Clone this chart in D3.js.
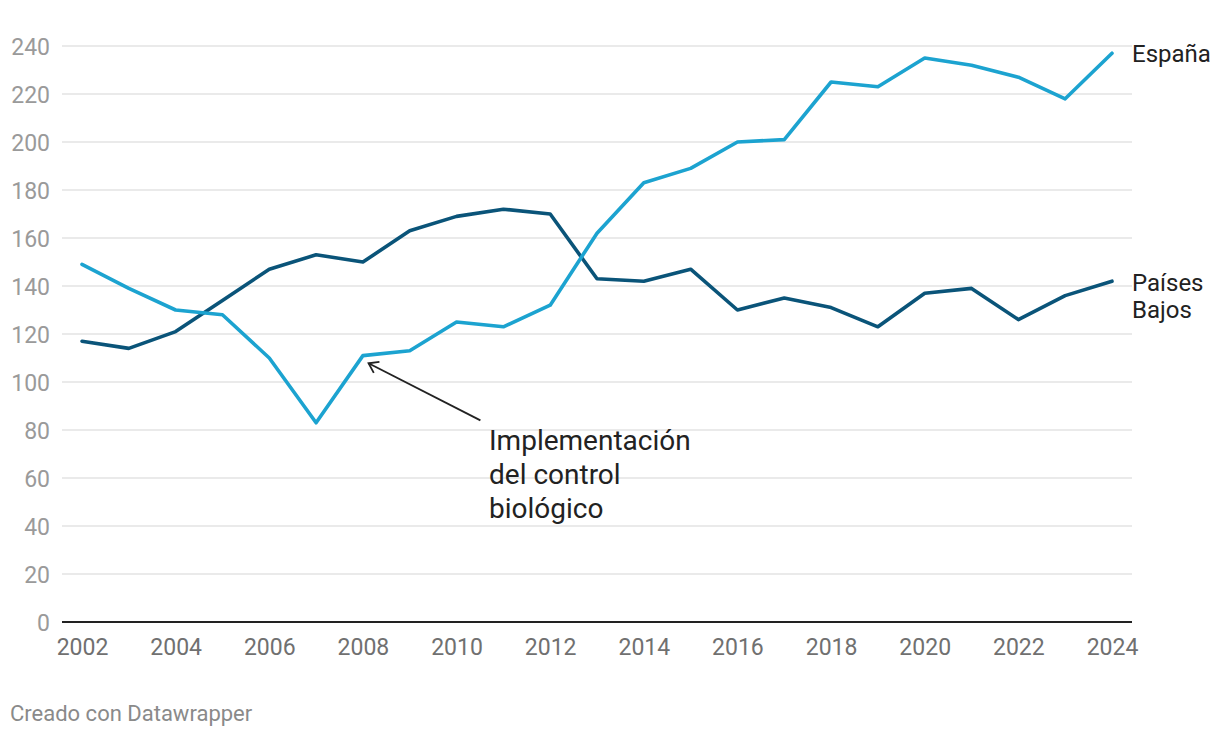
<!DOCTYPE html>
<html>
<head>
<meta charset="utf-8">
<script src="https://cdn.jsdelivr.net/npm/d3@7"></script>
<style>
  html, body { margin: 0; padding: 0; background: #fff; }
  svg { display: block; font-family: Roboto, "Noto Sans", sans-serif; }
</style>
</head>
<body>
<svg id="chart" width="1220" height="738"></svg>
<script>
const years = d3.range(2002, 2025);
const espana = [149, 139, 130, 128, 110, 83, 111, 113, 125, 123, 132, 162, 183, 189, 200, 201, 225, 223, 235, 232, 227, 218, 237];
const paisesBajos = [117, 114, 121, 134, 147, 153, 150, 163, 169, 172, 170, 143, 142, 147, 130, 135, 131, 123, 137, 139, 126, 136, 142];
const yTicks = [0, 20, 40, 60, 80, 100, 120, 140, 160, 180, 200, 220, 240];
const xTicks = [2002, 2004, 2006, 2008, 2010, 2012, 2014, 2016, 2018, 2020, 2022, 2024];
const seriesNames = ["España", "Países Bajos"];
const annotationLines = ["Implementación", "del control", "biológico"];

const svg = d3.select("#chart");
const x = d3.scaleLinear().domain([2002, 2024]).range([82, 1112]);
const y = d3.scaleLinear().domain([0, 240]).range([622, 46]);
const gridLeft = 62, gridRight = 1132;

// grid
const grid = svg.append("g");
grid.selectAll("line").data(yTicks.filter(d => d !== 0)).join("line")
  .attr("x1", gridLeft).attr("x2", gridRight)
  .attr("y1", d => y(d)).attr("y2", d => y(d))
  .attr("stroke", "#e3e3e3").attr("stroke-width", 1.5);

// y axis labels
const yAxis = svg.append("g").attr("transform", `translate(${gridLeft},0)`)
  .call(d3.axisLeft(y).tickValues(yTicks).tickSize(0).tickPadding(12));
yAxis.select(".domain").remove();
yAxis.selectAll("text").attr("fill", "#9a9a9a").attr("font-size", 23)
  .attr("font-family", "Roboto").attr("dy", "0.35em");

// x axis labels
const xAxis = svg.append("g").attr("transform", `translate(0,${y(0)})`)
  .call(d3.axisBottom(x).tickValues(xTicks).tickFormat(d3.format("d")).tickSize(0).tickPadding(17));
xAxis.select(".domain").remove();
xAxis.selectAll("text").attr("fill", "#707070").attr("font-size", 23).attr("font-family", "Roboto");

// baseline
svg.append("line").attr("x1", gridLeft).attr("x2", gridRight)
  .attr("y1", y(0)).attr("y2", y(0)).attr("stroke", "#222").attr("stroke-width", 2);

// lines
const line = d3.line().x((d, i) => x(years[i])).y(d => y(d));
svg.append("path").datum(paisesBajos).attr("d", line)
  .attr("fill", "none").attr("stroke", "#0a5479").attr("stroke-width", 3.6)
  .attr("stroke-linejoin", "round").attr("stroke-linecap", "round");
svg.append("path").datum(espana).attr("d", line)
  .attr("fill", "none").attr("stroke", "#1ca3d0").attr("stroke-width", 3.6)
  .attr("stroke-linejoin", "round").attr("stroke-linecap", "round");

// series labels
svg.append("text").attr("x", 1132).attr("y", y(237) + 9)
  .attr("font-size", 24).attr("fill", "#222").text(seriesNames[0]);
const pb = svg.append("text").attr("x", 1132).attr("y", y(142) + 9.5)
  .attr("font-size", 24).attr("fill", "#222");
pb.append("tspan").attr("x", 1132).text("Países");
pb.append("tspan").attr("x", 1132).attr("dy", 27.6).text("Bajos");

// annotation arrow
const ax0 = x(2010.51), ay0 = y(84);
const ax1 = x(2008.12), ay1 = y(107.8);
svg.append("line").attr("x1", ax0).attr("y1", ay0).attr("x2", ax1).attr("y2", ay1)
  .attr("stroke", "#222").attr("stroke-width", 1.8);
const ang = Math.atan2(ay0 - ay1, ax0 - ax1);
const hl = 11, spread = 0.6;
svg.append("path")
  .attr("d", `M${ax1 + hl * Math.cos(ang + spread)},${ay1 + hl * Math.sin(ang + spread)} L${ax1},${ay1} L${ax1 + hl * Math.cos(ang - spread)},${ay1 + hl * Math.sin(ang - spread)}`)
  .attr("fill", "none").attr("stroke", "#222").attr("stroke-width", 1.8);

const ann = svg.append("text").attr("font-size", 28).attr("fill", "#222");
annotationLines.forEach((t, i) => {
  ann.append("tspan").attr("x", 489).attr("y", 450 + i * 34).text(t);
});

// footer
svg.append("text").attr("x", 10).attr("y", 721).attr("font-size", 22)
  .attr("fill", "#8a8a8a").text("Creado con Datawrapper");
</script>
</body>
</html>
